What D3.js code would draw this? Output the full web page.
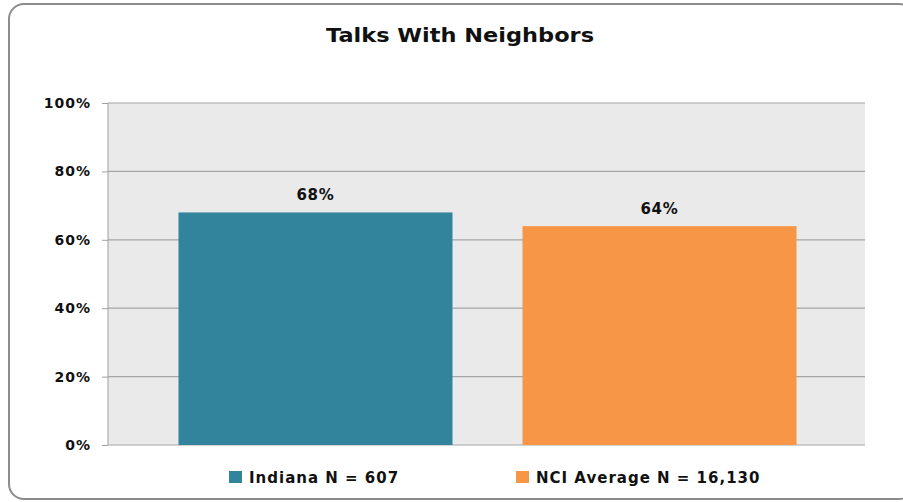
<!DOCTYPE html>
<html lang="en">
<head>
    <meta charset="UTF-8">
    <script src="https://cdnjs.cloudflare.com/ajax/libs/d3/7.8.5/d3.min.js"></script>
    <style>
        body { margin: 0; background: #fff; }
        text { font-family: "DejaVu Sans", Verdana, sans-serif; font-weight: bold; fill: #111; }
        .tick > text { font-size: 14px; letter-spacing: 1px; }
        path.domain { stroke: none; }
    </style>
</head>
<body>
    <svg width="903" height="502"></svg>
    <script>
        const title = 'Talks With Neighbors';
        const series = ['Indiana N = 607', 'NCI Average N = 16,130'];
        const values = [68, 64];
        const colors = ['#31849B', '#F79646'];
        const yTicks = [0, 20, 40, 60, 80, 100];

        const svg = d3.select('svg');

        // outer frame
        svg.append('rect')
            .attr('x', 9).attr('y', 4)
            .attr('width', 905).attr('height', 495)
            .attr('rx', 15)
            .attr('fill', '#fff')
            .attr('stroke', '#8c8c8c')
            .attr('stroke-width', 2);

        const plotL = 108, plotR = 865, plotT = 103, plotB = 445;

        const xScale = d3.scaleBand().domain(series).range([plotL, plotR])
            .paddingInner(0.2035).paddingOuter(0.202);
        const yScale = d3.scaleLinear().domain([0, 100]).range([plotB, plotT]);

        svg.append('rect')
            .attr('x', plotL).attr('y', plotT)
            .attr('width', plotR - plotL).attr('height', plotB - plotT)
            .attr('fill', '#eaeaea');

        const yAxis = d3.axisLeft(yScale)
            .tickValues(yTicks)
            .tickSize(6)
            .tickPadding(11)
            .tickFormat(d => d + '%');
        const yG = svg.append('g').attr('transform', `translate(${plotL},0)`).call(yAxis);
        yG.selectAll('.tick line').attr('stroke', '#a0a0a0');

        // gridlines
        svg.append('g').selectAll('line')
            .data(yTicks)
            .join('line')
            .attr('x1', plotL).attr('x2', plotR)
            .attr('y1', d => yScale(d)).attr('y2', d => yScale(d))
            .attr('stroke', '#a6a6a6')
            .attr('stroke-width', 1.2);

        svg.append('line')
            .attr('x1', plotL).attr('x2', plotL)
            .attr('y1', plotT).attr('y2', plotB)
            .attr('stroke', '#a0a0a0');

        svg.append('g').selectAll('rect')
            .data(values)
            .join('rect')
            .attr('x', (d, i) => xScale(series[i]) + 1)
            .attr('y', d => yScale(d))
            .attr('width', xScale.bandwidth())
            .attr('height', d => plotB - yScale(d))
            .attr('fill', (d, i) => colors[i]);

        svg.append('g').selectAll('text')
            .data(values)
            .join('text')
            .attr('x', (d, i) => xScale(series[i]) + 1 + xScale.bandwidth() / 2)
            .attr('y', d => yScale(d) - 12.5)
            .attr('text-anchor', 'middle')
            .style('font-size', '15px')
            .style('letter-spacing', '0.7px')
            .text(d => d + '%');

        svg.append('text')
            .attr('x', 326).attr('y', 41.5)
            .attr('textLength', 268)
            .attr('lengthAdjust', 'spacingAndGlyphs')
            .style('font-size', '20px')
            .text(title);

        // legend
        const legendX = [229, 516];
        const legend = svg.append('g').selectAll('g')
            .data(series)
            .join('g')
            .attr('transform', (d, i) => `translate(${legendX[i]},471)`);
        legend.append('rect')
            .attr('width', 13).attr('height', 12)
            .attr('fill', (d, i) => colors[i]);
        legend.append('text')
            .attr('x', 20).attr('y', 12.3)
            .style('font-size', '15px')
            .style('letter-spacing', '1px')
            .text(d => d);
    </script>
</body>
</html>
